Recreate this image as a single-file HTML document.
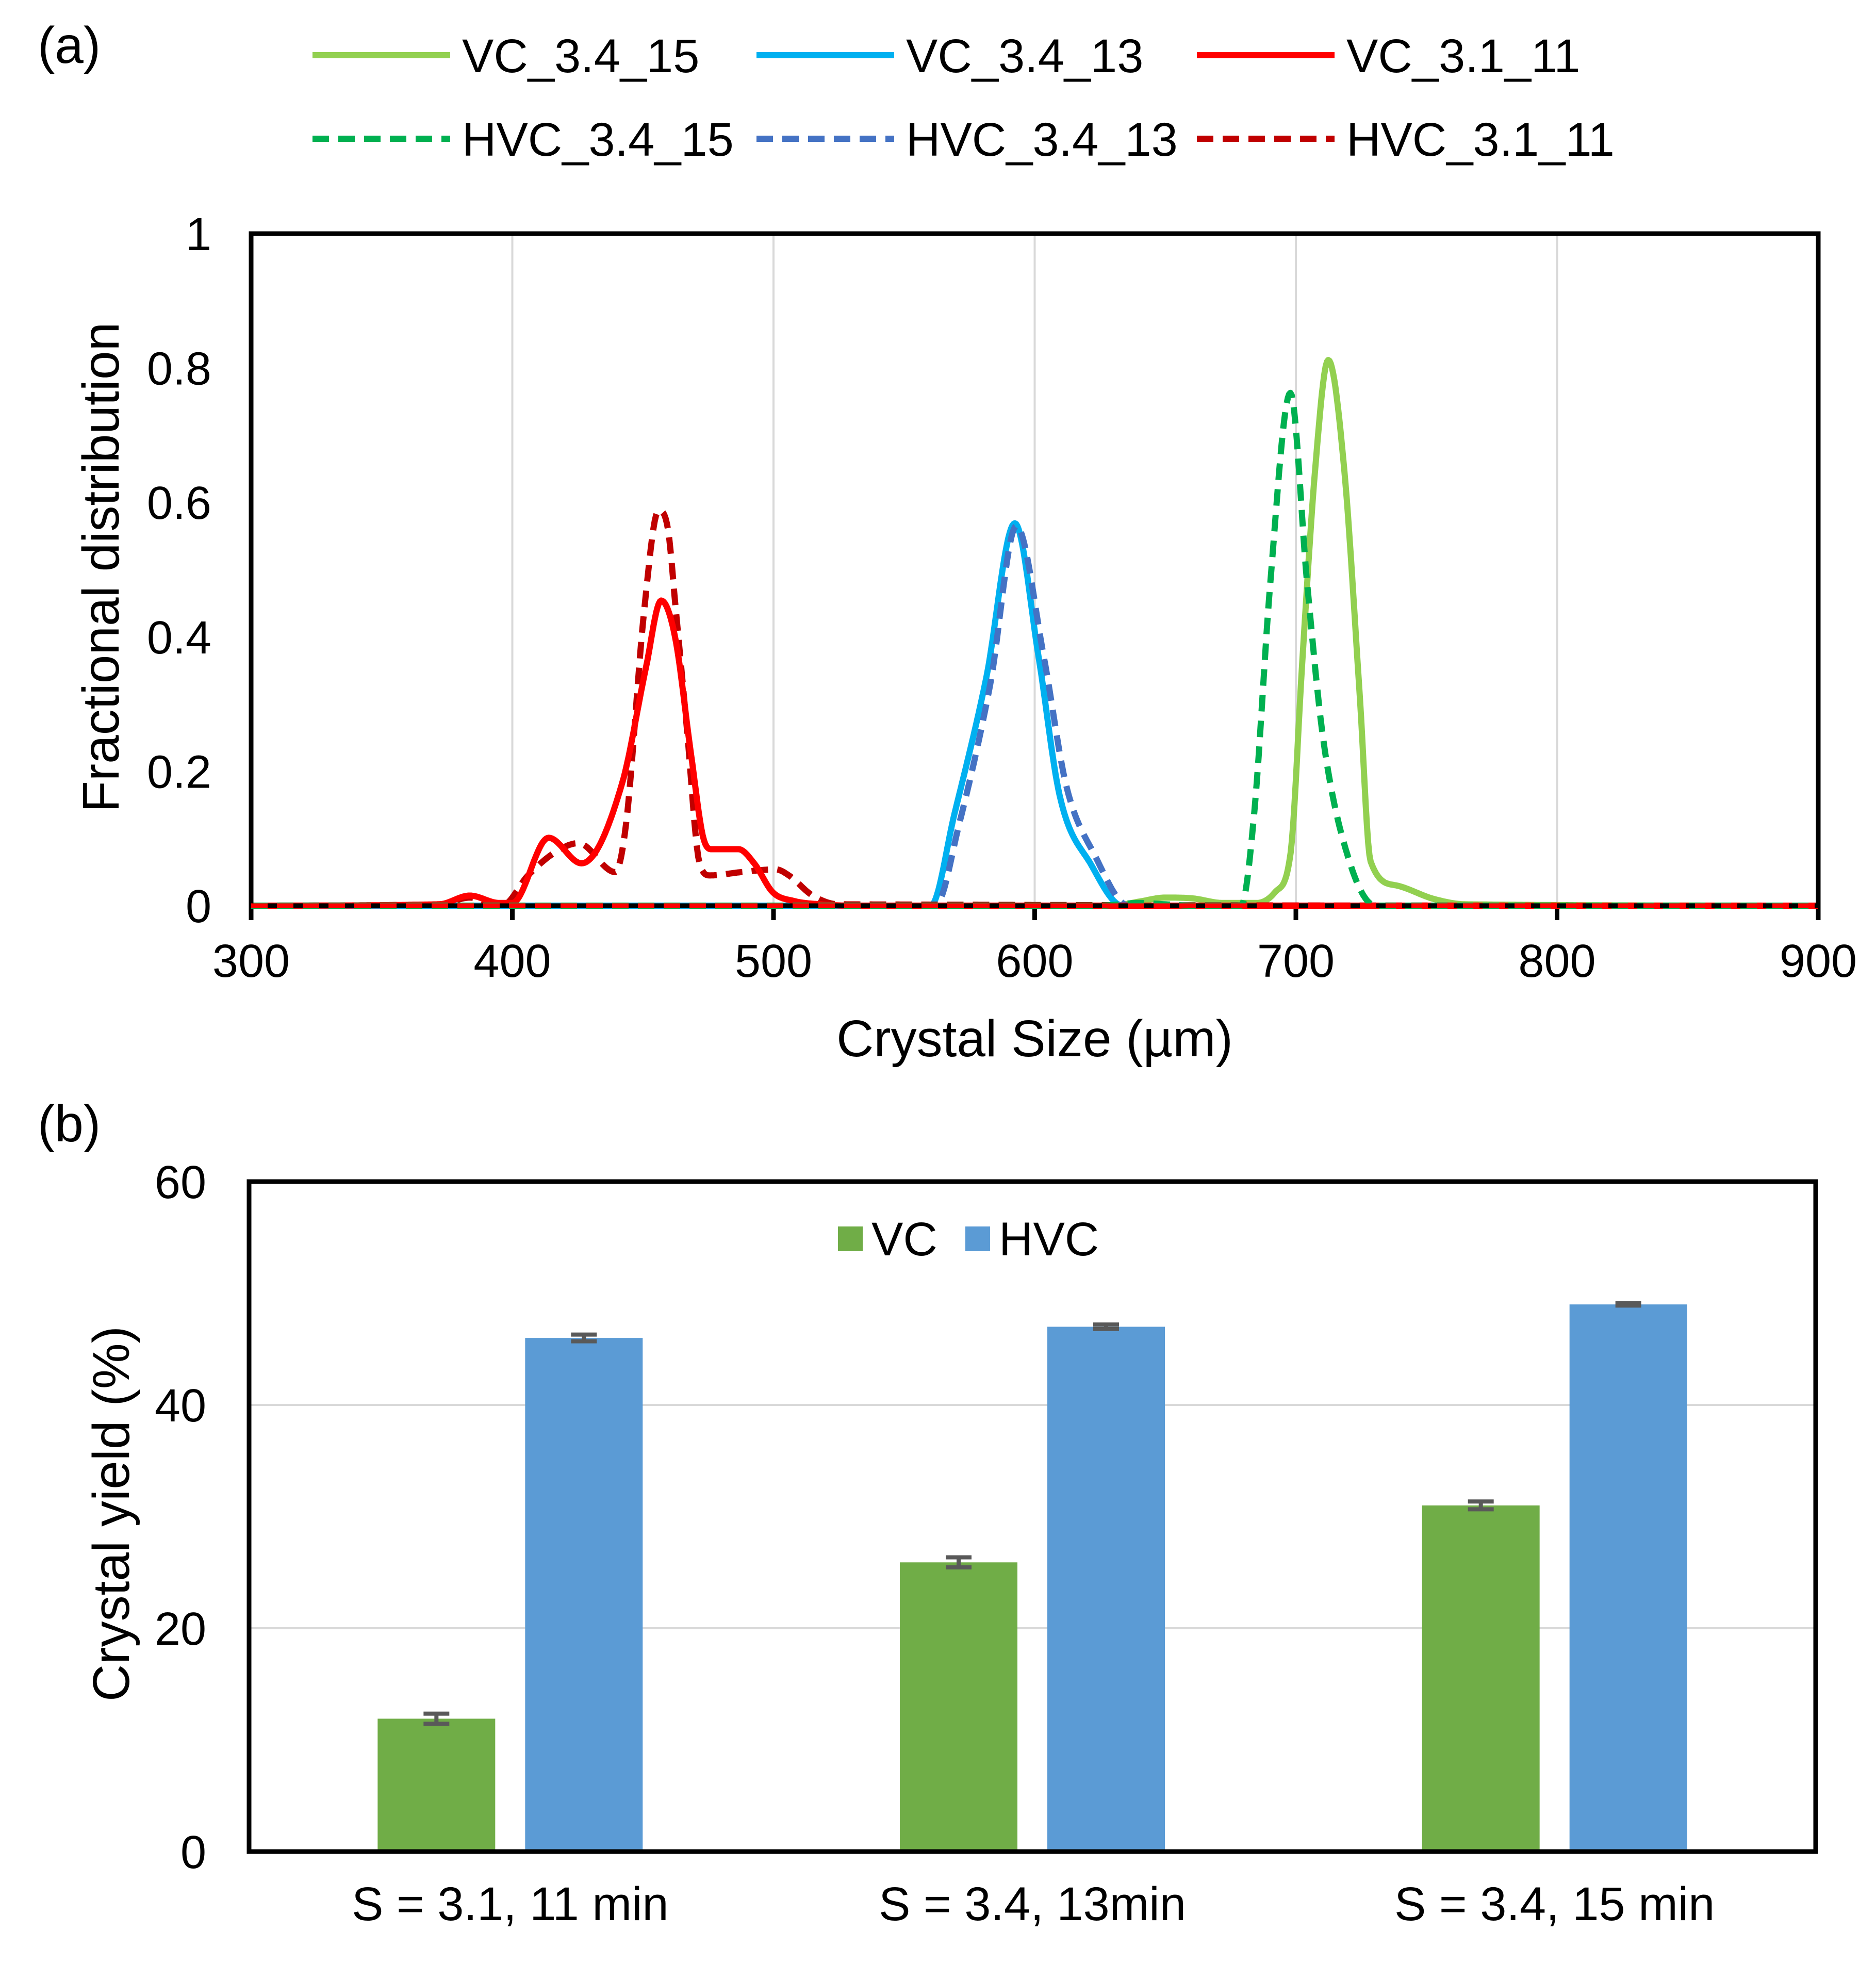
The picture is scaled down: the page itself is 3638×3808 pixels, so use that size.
<!DOCTYPE html>
<html><head><meta charset="utf-8"><style>
html,body{margin:0;padding:0;background:#fff}
svg{display:block}
text{font-family:"Liberation Sans",Arial,sans-serif;fill:#000}
</style></head><body>
<svg id="fig" width="3638" height="3808" viewBox="0 0 3638 3808" xmlns="http://www.w3.org/2000/svg">
<g id="chartA"></g>
<g id="chartB"></g>
</svg>
<script>
// ---- Chart (a) data ----
const xTicksA = [300,400,500,600,700,800,900];
const yTicksA = [0,0.2,0.4,0.6,0.8,1];
const yTickLabelsA = ["0","0.2","0.4","0.6","0.8","1"];
const vc15x = [300,630,640,650,660,672,685,692,698,702.4,707.4,712.4,718.5,724.5,728.6,738.6,752.8,765,900];
const vc15y = [0,0,0.006,0.012,0.011,0.004,0.004,0.02,0.079,0.36,0.65,0.812,0.65,0.31,0.066,0.03,0.01,0.002,0];
const vc13x = [300,560.2,569.3,581.4,592.4,601.5,609.5,621.6,633.7,900];
const vc13y = [0,0,0.137,0.338,0.569,0.37,0.165,0.061,0,0];
const vc11x = [300,372,383.7,395,400,413.9,426.5,442.1,451.2,457,462.3,468.4,473.4,476.5,486.6,492.6,499.7,507.8,518,530,900];
const vc11y = [0,0.002,0.015,0.004,0.004,0.101,0.063,0.183,0.355,0.454,0.40,0.226,0.097,0.084,0.084,0.063,0.02,0.007,0.002,0,0];
const hvc15x = [300,625,640,650,660,679,684.1,690.2,697.9,704.3,710.4,720.5,730.6,900];
const hvc15y = [0,0,0.004,0.002,0,0,0.14,0.48,0.763,0.48,0.25,0.066,0,0];
const hvc13x = [300,562,571,583,593,603.5,612,623,636,900];
const hvc13y = [0,0,0.12,0.33,0.565,0.37,0.18,0.075,0,0];
const hvc11x = [300,372,383.7,396,406,416.2,425.3,439.4,443.5,450.5,456,459.6,462.6,466.7,471.7,475.7,487.8,500.9,505.9,515,525,900];
const hvc11y = [0,0.002,0.012,0,0.045,0.079,0.093,0.05,0.12,0.44,0.588,0.56,0.44,0.27,0.063,0.045,0.05,0.054,0.045,0.015,0.002,0];
// ---- Chart (b) data ----
const categories = ["S = 3.1, 11 min","S = 3.4, 13min","S = 3.4, 15 min"];
const vcYield = [11.9,25.9,31.0];
const hvcYield = [46.0,47.0,49.0];
const vcErr = [0.45,0.45,0.35];
const hvcErr = [0.3,0.2,0.1];
const yTicksB = [0,20,40,60];

const NS="http://www.w3.org/2000/svg";
function mk(tag,attrs,parent,txt){const e=document.createElementNS(NS,tag);for(const k in attrs)e.setAttribute(k,attrs[k]);if(txt!==undefined)e.textContent=txt;parent.appendChild(e);return e;}

const A={l:487,r:3526,t:453,b:1756};
const xA=v=>A.l+(v-300)/600*(A.r-A.l);
const yA=v=>A.b-v*(A.b-A.t);
const gA=document.getElementById('chartA');
xTicksA.forEach((t,i)=>{
  if(i>0&&i<xTicksA.length-1){const g=mk('line',{x1:xA(t),x2:xA(t),y1:A.t,y2:A.b,stroke:'#d9d9d9','stroke-width':4},gA);
  
  }
  const tk=mk('line',{x1:xA(t),x2:xA(t),y1:A.b,y2:A.b+28,stroke:'#000','stroke-width':9},gA);
  
  
  const lb=mk('text',{x:xA(t),y:1894,'font-size':90,'text-anchor':'middle'},gA,String(t));
  
  
});
yTicksA.forEach((t,i)=>{
  const lb=mk('text',{x:410,y:yA(t)+32,'font-size':90,'text-anchor':'end'},gA,yTickLabelsA[i]);
  
  
});
// monotone cubic (Fritsch-Carlson) interpolation, sampled densely
function monoPath(xs,ys,fx,fy){
  const n=xs.length,d=[],m=new Array(n);
  for(let i=0;i<n-1;i++)d.push((ys[i+1]-ys[i])/(xs[i+1]-xs[i]));
  m[0]=d[0];m[n-1]=d[n-2];
  for(let i=1;i<n-1;i++){m[i]=(d[i-1]*d[i]<=0)?0:(d[i-1]+d[i])/2;}
  for(let i=0;i<n-1;i++){
    if(d[i]===0){m[i]=0;m[i+1]=0;continue;}
    const a=m[i]/d[i],b=m[i+1]/d[i],s=a*a+b*b;
    if(s>9){const t=3/Math.sqrt(s);m[i]=t*a*d[i];m[i+1]=t*b*d[i];}
  }
  let path=`M${fx(xs[0]).toFixed(1)},${fy(ys[0]).toFixed(1)}`;
  for(let i=0;i<n-1;i++){
    const h=xs[i+1]-xs[i];
    const steps=Math.max(1,Math.ceil(h/0.5));
    for(let k=1;k<=steps;k++){
      const t=k/steps,t2=t*t,t3=t2*t;
      const y=(2*t3-3*t2+1)*ys[i]+(t3-2*t2+t)*h*m[i]+(-2*t3+3*t2)*ys[i+1]+(t3-t2)*h*m[i+1];
      path+=` L${fx(xs[i]+t*h).toFixed(1)},${fy(Math.max(0,y)).toFixed(1)}`;
    }
  }
  return path;
}
const series=[
 {x:vc15x,y:vc15y,c:'#92d050',dash:null,n:'VC_3.4_15'},
 {x:vc13x,y:vc13y,c:'#00b0f0',dash:null,n:'VC_3.4_13'},
 {x:hvc13x,y:hvc13y,c:'#4472c4',dash:'32 18',n:'HVC_3.4_13'},
 {x:hvc11x,y:hvc11y,c:'#c00000',dash:'32 18',n:'HVC_3.1_11'},
 {x:vc11x,y:vc11y,c:'#ff0000',dash:null,n:'VC_3.1_11'},
 {x:hvc15x,y:hvc15y,c:'#00b050',dash:'32 18',n:'HVC_3.4_15'}
];
series.forEach(s=>{
  const at={d:monoPath(s.x,s.y,xA,yA),fill:'none',stroke:s.c,'stroke-width':12,'stroke-linejoin':'round'};
  if(s.dash)at['stroke-dasharray']=s.dash;
  const p=mk('path',at,gA);
  
  
});
const frA=mk('rect',{x:A.l,y:A.t,width:A.r-A.l,height:A.b-A.t,fill:'none',stroke:'#000','stroke-width':9},gA);


// redraw baseline series on top of frame bottom (as in reference)
const bl=mk('line',{x1:A.l,x2:A.r,y1:A.b,y2:A.b,stroke:'#ff0000','stroke-width':9,'stroke-dasharray':'32 18'},gA);


const tA=mk('text',{x:(A.l+A.r)/2,y:2048,'font-size':100,'text-anchor':'middle'},gA,'Crystal Size (µm)');


const ytA=mk('text',{x:0,y:0,'font-size':100,'text-anchor':'middle',transform:'translate(230,1100) rotate(-90)'},gA,'Fractional distribution');


const pa=mk('text',{x:73,y:122,'font-size':100},gA,'(a)');


const leg=[
 {x:606,y:107,c:'#92d050',d:null,n:'VC_3.4_15'},{x:1467,y:107,c:'#00b0f0',d:null,n:'VC_3.4_13'},{x:2321,y:107,c:'#ff0000',d:null,n:'VC_3.1_11'},
 {x:606,y:269,c:'#00b050',d:'32 18',n:'HVC_3.4_15'},{x:1467,y:269,c:'#4472c4',d:'32 18',n:'HVC_3.4_13'},{x:2321,y:269,c:'#c00000',d:'32 18',n:'HVC_3.1_11'}];
leg.forEach(L=>{
  const g=mk('g',{},gA);
  
  
  const at={x1:L.x,x2:L.x+267,y1:L.y,y2:L.y,stroke:L.c,'stroke-width':12};
  if(L.d)at['stroke-dasharray']=L.d;
  mk('line',at,g);
  mk('text',{x:L.x+290,y:L.y+33,'font-size':92},g,L.n);
});

const B={l:483,r:3521,t:2291,b:3590};
const yB=v=>B.b-v/60*(B.b-B.t);
const catW=(B.r-B.l)/categories.length;
const cx=i=>B.l+catW*(i+0.5);
const gB=document.getElementById('chartB');
yTicksB.forEach(t=>{
  if(t>0&&t<60){const g=mk('line',{x1:B.l,x2:B.r,y1:yB(t),y2:yB(t),stroke:'#d9d9d9','stroke-width':4},gB);
  
  }
  const lb=mk('text',{x:400,y:yB(t)+32,'font-size':90,'text-anchor':'end'},gB,String(t));
  
  
});
const bw=228, off=143;
function bar(i,v,e,col,nm){
  const x=cx(i)+off*(nm==='vc'?-1:1);
  const r=mk('rect',{x:x-bw/2,y:yB(v),width:bw,height:yB(0)-yB(v),fill:col},gB);
  
  
  const eb=mk('path',{d:`M${x-25},${yB(v+e)} H${x+25} M${x},${yB(v+e)} V${yB(v-e)} M${x-25},${yB(v-e)} H${x+25}`,stroke:'#595959','stroke-width':8,fill:'none'},gB);
  
  
}
categories.forEach((c,i)=>{
  bar(i,vcYield[i],vcErr[i],'#70ad47','vc');
  bar(i,hvcYield[i],hvcErr[i],'#5b9bd5','hvc');
  const lb=mk('text',{x:cx(i),y:3723,'font-size':92,'text-anchor':'middle'},gB,c);
  
  
});
const frB=mk('rect',{x:B.l,y:B.t,width:B.r-B.l,height:B.b-B.t,fill:'none',stroke:'#000','stroke-width':9},gB);


const ytB=mk('text',{x:0,y:0,'font-size':100,'text-anchor':'middle',transform:'translate(250,2935) rotate(-90)'},gB,'Crystal yield (%)');


const pb=mk('text',{x:73,y:2213,'font-size':100},gB,'(b)');


const lg1=mk('g',{},gB);


mk('rect',{x:1625,y:2378,width:48,height:48,fill:'#70ad47'},lg1);
mk('text',{x:1690,y:2434,'font-size':92},lg1,'VC');
const lg2=mk('g',{},gB);


mk('rect',{x:1872,y:2378,width:48,height:48,fill:'#5b9bd5'},lg2);
mk('text',{x:1937,y:2434,'font-size':92},lg2,'HVC');
</script>
</body></html>
